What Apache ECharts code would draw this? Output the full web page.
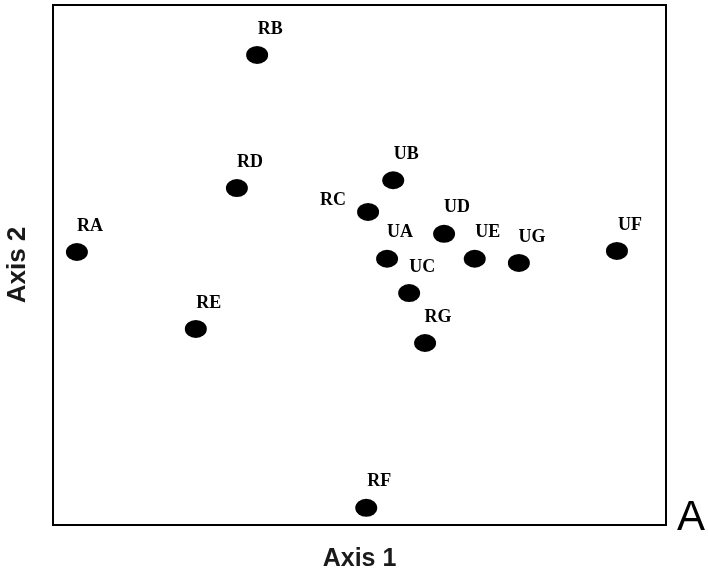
<!DOCTYPE html>
<html><head><meta charset="utf-8">
<script src="https://cdn.jsdelivr.net/npm/echarts@6/dist/echarts.min.js"></script>
<style>html,body{margin:0;padding:0;background:#fff}#c{width:708px;height:576px}</style>
</head><body><div id="c"></div>
<script>
const names = ["RA","RB","RC","RD","RE","RF","RG","UA","UB","UC","UD","UE","UG","UF"];
const axis1 = [3.9,33.3,51.4,30.0,23.3,51.1,60.7,54.5,55.5,58.1,63.8,68.8,76.0,92.0];
const axis2 = [52.5,90.4,60.2,64.8,37.7,3.3,35.0,51.2,66.3,44.6,56.0,51.2,50.4,52.7];
const leftLabels = ["RC"];

const chart = echarts.init(document.getElementById('c'));
const data = names.map((n,i)=>{
  const d = {name:n, value:[axis1[i], axis2[i]]};
  if (leftLabels.includes(n)) d.label = {position:'left', offset:[-6,-12]};
  return d;
});
chart.setOption({
  animation:false,
  title:{text:'A', left:672, top:492, textStyle:{fontFamily:'Liberation Sans', fontSize:42, fontWeight:'normal', color:'#000'}},
  grid:{left:53, top:5, width:613, height:520, show:true, borderColor:'#000', borderWidth:2,
    outerBoundsMode:'none', containLabel:false},
  xAxis:{type:'value', min:0, max:100, name:'Axis 1', nameLocation:'middle', nameGap:22,
    nameTextStyle:{fontFamily:'Liberation Sans', fontSize:25, fontWeight:'bold', color:'#1a1a1a'},
    axisLine:{show:false}, axisTick:{show:false}, axisLabel:{show:false}, splitLine:{show:false}},
  yAxis:{type:'value', min:0, max:100, name:'Axis 2', nameLocation:'middle', nameGap:22,
    nameTextStyle:{fontFamily:'Liberation Sans', fontSize:26, fontWeight:'bold', color:'#1a1a1a'},
    axisLine:{show:false}, axisTick:{show:false}, axisLabel:{show:false}, splitLine:{show:false}},
  series:[{
    type:'scatter', symbol:'circle', symbolSize:[22,18],
    itemStyle:{color:'#000', opacity:1},
    label:{show:true, position:'top', offset:[13,-3], formatter:'{b}',
      fontFamily:'Liberation Serif', fontSize:18, fontWeight:'bold', color:'#000'},
    emphasis:{disabled:true},
    data:data
  }]
});
</script></body></html>
